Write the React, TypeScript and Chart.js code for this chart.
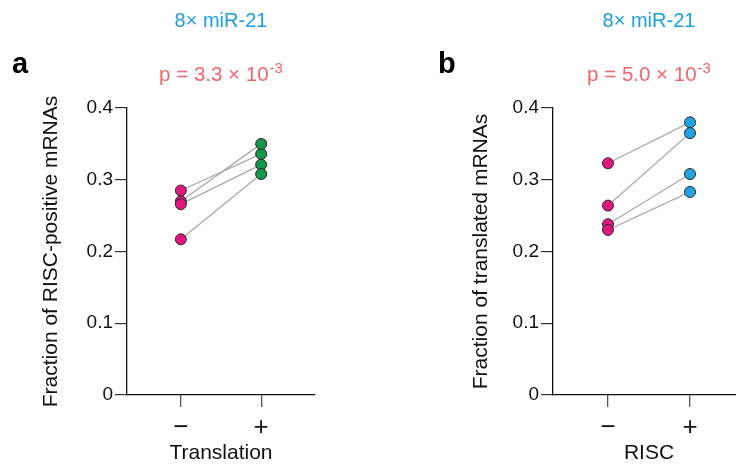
import React, { useEffect, useRef } from "react";
import { Chart, registerables } from "chart.js";

Chart.register(...registerables);

// ---------- data ----------
const categories = ["\u2212", "+"];
const yTickValues = [0, 0.1, 0.2, 0.3, 0.4];

const panelAMinus = [0.285, 0.270, 0.266, 0.217];
const panelAPlus = [0.336, 0.350, 0.321, 0.308];

const panelBMinus = [0.323, 0.264, 0.238, 0.230];
const panelBPlus = [0.380, 0.365, 0.308, 0.283];

const panelALetter = "a";
const panelBLetter = "b";
const panelTitle = "8\u00d7 miR-21";
const panelAP = "p = 3.3 \u00d7 10";
const panelBP = "p = 5.0 \u00d7 10";
const pExponent = "-3";
const panelAXTitle = "Translation";
const panelBXTitle = "RISC";
const panelAYTitle = "Fraction of RISC-positive mRNAs";
const panelBYTitle = "Fraction of translated mRNAs";

// ---------- style ----------
const FONT = "'Liberation Sans', Arial, Helvetica, sans-serif";
const PINK = "#df177f";
const GREEN = "#15964a";
const BLUE = "#1fa3e4";
const TITLE_BLUE = "#1b9fe0";
const P_RED = "#ee6671";
const LINE_GRAY = "#a9a9a9";

const headerPlugin = {
  id: "header",
  afterDraw(chart: any, _args: any, opts: any) {
    const { ctx } = chart;
    const x = chart.scales.x;
    const cx = (x.getPixelForValue(0) + x.getPixelForValue(1)) / 2;
    ctx.save();
    ctx.textBaseline = "alphabetic";
    ctx.textAlign = "center";
    ctx.fillStyle = TITLE_BLUE;
    ctx.font = `20px ${FONT}`;
    ctx.fillText(opts.title, cx, 27);

    ctx.font = `20.5px ${FONT}`;
    const w1 = ctx.measureText(opts.p).width;
    ctx.font = `15px ${FONT}`;
    const w2 = ctx.measureText(opts.exp).width;
    const start = cx - (w1 + w2 + 1) / 2;
    ctx.textAlign = "left";
    ctx.fillStyle = P_RED;
    ctx.font = `20.5px ${FONT}`;
    ctx.fillText(opts.p, start, 81);
    ctx.font = `15px ${FONT}`;
    ctx.fillText(opts.exp, start + w1 + 1, 73);

    ctx.fillStyle = "#000";
    ctx.font = `bold 29px ${FONT}`;
    ctx.fillText(opts.letter, 12, 73);
    ctx.restore();
  },
};

function makeConfig(
  minus: number[],
  plus: number[],
  plusColor: string,
  letter: string,
  pText: string,
  xTitle: string,
  yTitle: string,
  yTitlePad: number,
  padRight: number
): any {
  const lineSets = minus.map((m, i) => ({
    type: "scatter",
    data: [
      { x: 0, y: m },
      { x: 1, y: plus[i] },
    ],
    showLine: true,
    borderColor: LINE_GRAY,
    borderWidth: 1.3,
    pointRadius: 0,
    order: 2,
  }));
  const minusSet = {
    type: "scatter",
    data: minus.map((y) => ({ x: 0, y })),
    backgroundColor: PINK,
    borderColor: "#2a2a2a",
    borderWidth: 1,
    pointRadius: 5.5,
    order: 1,
  };
  const plusSet = {
    type: "scatter",
    data: plus.map((y) => ({ x: 1, y })),
    backgroundColor: plusColor,
    borderColor: "#2a2a2a",
    borderWidth: 1,
    pointRadius: 5.5,
    order: 1,
  };
  return {
    type: "scatter",
    data: { datasets: [...lineSets, minusSet, plusSet] },
    plugins: [headerPlugin],
    options: {
      animation: false,
      responsive: false,
      devicePixelRatio: 1,
      layout: { padding: { top: 108, left: 0, right: padRight, bottom: 0 } },
      plugins: {
        legend: { display: false },
        tooltip: { enabled: false },
        header: { title: panelTitle, p: pText, exp: pExponent, letter },
      },
      scales: {
        x: {
          type: "linear",
          min: -0.67,
          max: 1.67,
          afterBuildTicks: (scale: any) => {
            scale.ticks = [{ value: 0 }, { value: 1 }];
          },
          afterFit: (scale: any) => {
            scale.height = 71;
          },
          ticks: {
            callback: (v: number) => categories[Math.round(v)],
            font: { family: FONT, size: 26 },
            color: "#111",
            padding: 5,
            maxRotation: 0,
            autoSkip: false,
          },
          grid: {
            drawOnChartArea: false,
            drawTicks: true,
            tickLength: 12,
            color: "#555",
            lineWidth: 1.3,
          },
          border: { display: true, color: "#111", width: 1.3 },
          title: {
            display: true,
            text: xTitle,
            font: { family: FONT, size: 21 },
            color: "#111",
            padding: { top: 0, bottom: 0 },
          },
        },
        y: {
          type: "linear",
          min: 0,
          max: 0.4,
          afterBuildTicks: (scale: any) => {
            scale.ticks = yTickValues.map((v) => ({ value: v }));
          },
          afterFit: (scale: any) => {
            scale.width = 127;
          },
          ticks: {
            callback: (v: number) => (v === 0 ? "0" : v.toFixed(1)),
            font: { family: FONT, size: 19 },
            color: "#111",
            padding: 2,
          },
          grid: {
            drawOnChartArea: false,
            drawTicks: true,
            tickLength: 12,
            color: "#333",
            lineWidth: 1.2,
          },
          border: { display: true, color: "#111", width: 1.3 },
          title: {
            display: true,
            text: yTitle,
            font: { family: FONT, size: 21 },
            color: "#111",
            padding: { top: yTitlePad, bottom: 0 },
          },
        },
      },
    },
  };
}

function Panel(props: { config: any; left: number; width: number }) {
  const ref = useRef<HTMLCanvasElement | null>(null);
  useEffect(() => {
    if (!ref.current) return;
    const chart = new Chart(ref.current, props.config);
    return () => chart.destroy();
  }, []);
  return (
    <canvas
      ref={ref}
      width={props.width}
      height={466}
      style={{ position: "absolute", left: props.left, top: 0, width: props.width, height: 466 }}
    />
  );
}

export default function App() {
  const configA = makeConfig(
    panelAMinus,
    panelAPlus,
    GREEN,
    panelALetter,
    panelAP,
    panelAXTitle,
    panelAYTitle,
    39,
    430 - 319
  );
  const configB = makeConfig(
    panelBMinus,
    panelBPlus,
    BLUE,
    panelBLetter,
    panelBP,
    panelBXTitle,
    panelBYTitle,
    43,
    334 - 319
  );
  return (
    <div
      style={{
        position: "fixed",
        left: 0,
        top: 0,
        width: 736,
        height: 466,
        overflow: "hidden",
        background: "#fff",
      }}
    >
      <Panel config={configA} left={0} width={426} />
      <Panel config={configB} left={426} width={334} />
    </div>
  );
}
